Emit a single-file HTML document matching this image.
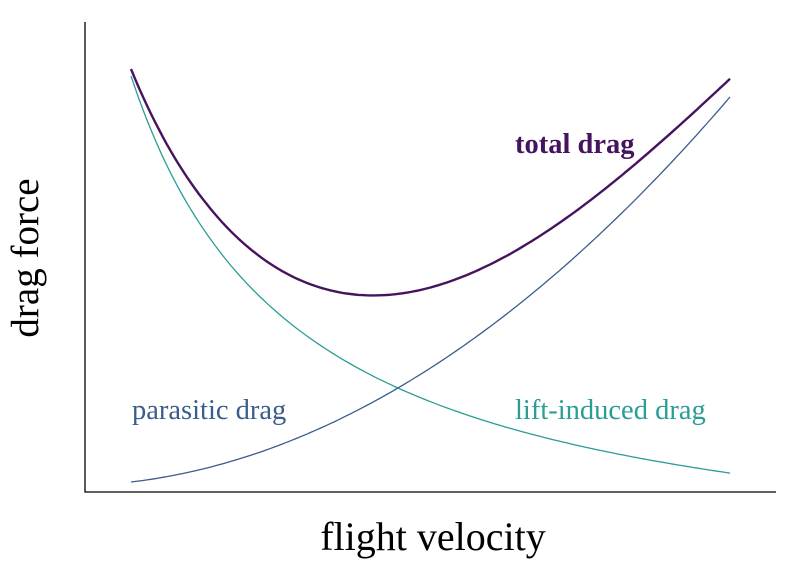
<!DOCTYPE html>
<html><head><meta charset="utf-8"><style>
body{margin:0;background:#fff}
svg{display:block}
text{font-family:"Liberation Serif",serif}
</style></head><body>
<svg id="s" width="800" height="570" viewBox="0 0 800 570" xmlns="http://www.w3.org/2000/svg">
<line x1="85" y1="22" x2="85" y2="492.5" stroke="#000" stroke-width="1.3"/>
<line x1="84.5" y1="492" x2="776" y2="492" stroke="#000" stroke-width="1.3"/>
<path id="pi" fill="none" stroke="#2a9d95" stroke-width="1.3"/>
<path id="pp" fill="none" stroke="#3b5d8c" stroke-width="1.3"/>
<path id="pt" fill="none" stroke="#46145f" stroke-width="2.4"/>
<text x="515" y="153" font-size="28.5" font-weight="bold" fill="#46145f">total drag</text>
<text x="132" y="419" font-size="28.5" fill="#3b5d8c">parasitic drag</text>
<text x="515" y="419" font-size="28.5" fill="#2a9d95">lift-induced drag</text>
<text x="433" y="550" font-size="40" text-anchor="middle" fill="#000">flight velocity</text>
<text transform="translate(38,258) rotate(-90)" font-size="39" text-anchor="middle" fill="#000">drag force</text>
</svg>
<script>
var P=[[131,69],[158,127],[192,187],[225,227],[258,257],[292,273],[325,285],[358,292],[398,294],[425,292],[470,277],[520,250],[570,217],[620,173],[670,130],[730,79]];
function basis(t){return [1/(t+0.2806),1,t,t*t,t*t*t];}
var n=5,M=[],V=[];
for(var i=0;i<n;i++){M.push([0,0,0,0,0]);V.push(0);}
P.forEach(function(p){var t=(p[0]-131)/599,h=492-p[1],f=basis(t),w=(p===P[0]||p===P[P.length-1])?20:1;
for(var i=0;i<n;i++){V[i]+=w*f[i]*h;for(var j=0;j<n;j++)M[i][j]+=w*f[i]*f[j];}});
for(var i=0;i<n;i++){var piv=M[i][i];for(var j=i+1;j<n;j++){var r=M[j][i]/piv;for(var k=i;k<n;k++)M[j][k]-=r*M[i][k];V[j]-=r*V[i];}}
var C=[0,0,0,0,0];
for(var i=n-1;i>=0;i--){var s=V[i];for(var j=i+1;j<n;j++)s-=M[i][j]*C[j];C[i]=s/M[i][i];}
var a="",b="",c="";
for(var k=0;k<=150;k++){var t=k/150,x=131+599*t;
var hi=142.7/(t+0.2806)-92.5,hp=10+71*t+314*t*t,f=basis(t),ht=0;
for(var j=0;j<n;j++)ht+=C[j]*f[j];
var s=k?"L":"M";
a+=s+x.toFixed(1)+","+(492-hi).toFixed(1);
b+=s+x.toFixed(1)+","+(492-hp).toFixed(1);
c+=s+x.toFixed(1)+","+(492-ht).toFixed(1);}
document.getElementById("pi").setAttribute("d",a);
document.getElementById("pp").setAttribute("d",b);
document.getElementById("pt").setAttribute("d",c);
</script>
</body></html>
